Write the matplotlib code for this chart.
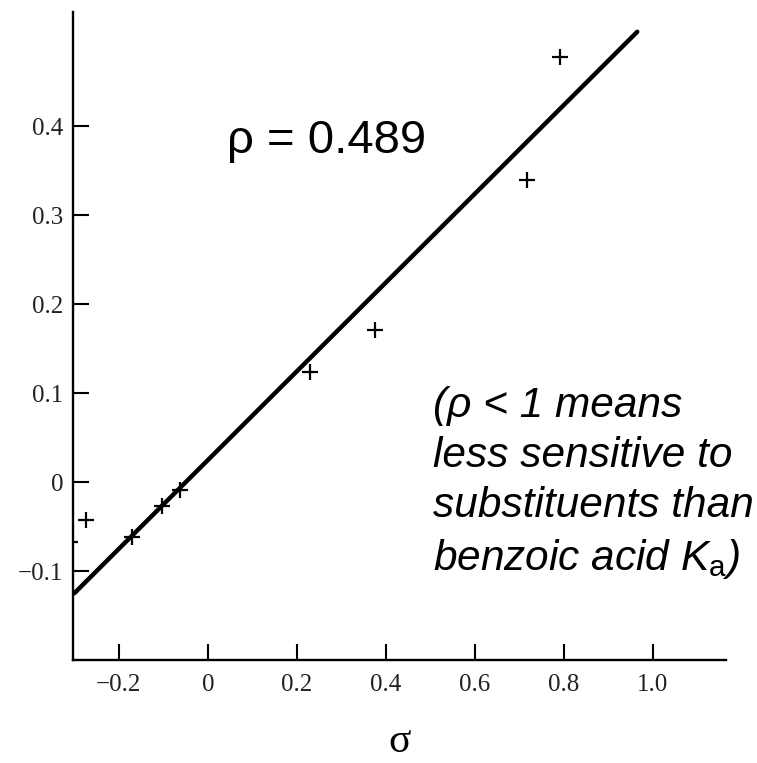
import matplotlib.pyplot as plt

# substituent constants and log(K/K0)
sigma = [-0.31, -0.274, -0.171, -0.103, -0.063, 0.229, 0.375, 0.717, 0.791]
log_ratio = [-0.067, -0.043, -0.062, -0.027, -0.009, 0.124, 0.171, 0.339, 0.478]

# ends of the fitted straight line
fit_x = [-0.30, 0.965]
fit_y = [-0.125, 0.506]

x_ticks = [-0.2, 0, 0.2, 0.4, 0.6, 0.8, 1.0]
x_labels = ['\u22120.2', '0', '0.2', '0.4', '0.6', '0.8', '1.0']
y_ticks = [-0.1, 0, 0.1, 0.2, 0.3, 0.4]
y_labels = ['\u22120.1', '0', '0.1', '0.2', '0.3', '0.4']

serif = ['Liberation Serif', 'DejaVu Serif']
sans = ['Liberation Sans', 'DejaVu Sans']

plt.rcParams['font.family'] = serif
plt.rcParams['mathtext.fontset'] = 'custom'
plt.rcParams['mathtext.it'] = 'Liberation Sans:italic'
plt.rcParams['mathtext.rm'] = 'Liberation Sans'

fig = plt.figure(figsize=(7.57, 7.63), dpi=100)
ax = fig.add_axes([0.0964, 0.135, 0.863, 0.849])

ax.plot(fit_x, fit_y, color='black', lw=3.2, solid_capstyle='round', zorder=2)
ax.plot(sigma, log_ratio, linestyle='none', marker='+', color='black',
        markersize=11, markeredgewidth=1.6, zorder=3)

ax.set_xlim(-0.303, 1.165)
ax.set_ylim(-0.2, 0.528)

for side in ['top', 'right']:
    ax.spines[side].set_visible(False)
for side in ['left', 'bottom']:
    ax.spines[side].set_linewidth(1.7)

ax.set_xticks(x_ticks)
ax.set_xticklabels(x_labels)
ax.set_yticks(y_ticks)
ax.set_yticklabels(y_labels)
ax.tick_params(axis='both', direction='in', length=11.5, width=1.5,
               labelsize=18, labelcolor='#222222')
ax.tick_params(axis='x', pad=10)
ax.tick_params(axis='y', pad=7)

ax.set_xlabel('\u03c3', fontsize=30, labelpad=19)

ax.text(0.043, 0.37, '\u03c1 = 0.489', family=sans, fontsize=34,
        ha='left', va='baseline')

# multi-line text: 'baseline' pins the last line
note = ('(\u03c1 < 1 means\nless sensitive to\nsubstituents than\n'
        'benzoic acid $\\mathit{K}_{\\mathrm{a}}$)')
ax.text(0.506, -0.099, note, family=sans, fontsize=30.5, style='italic',
        ha='left', va='baseline', linespacing=1.33)

fig.savefig('out.png', dpi=100, facecolor='white')
plt.close(fig)
